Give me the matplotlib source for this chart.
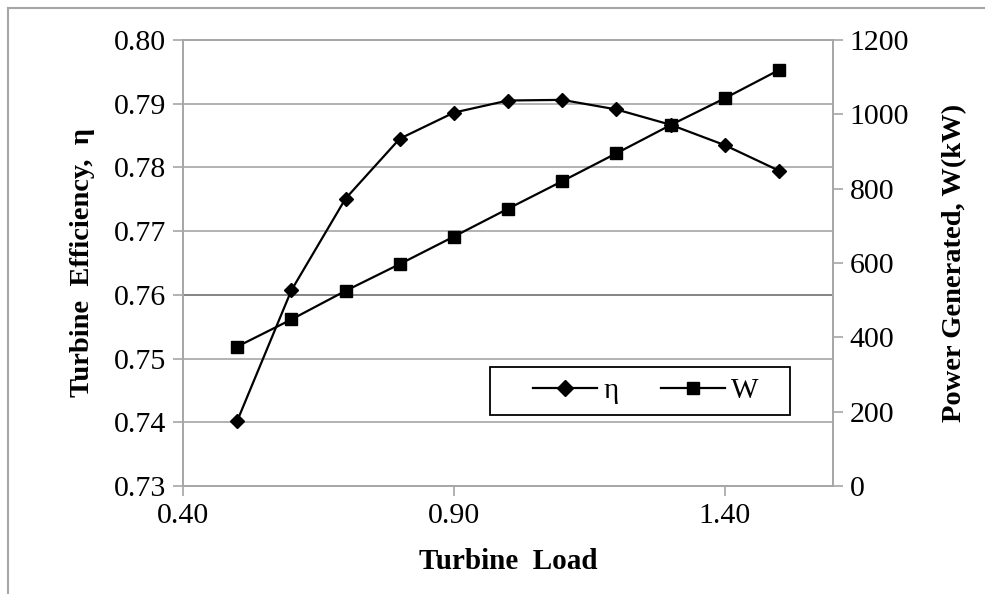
import matplotlib
matplotlib.use("Agg")
import matplotlib.pyplot as plt
from matplotlib.lines import Line2D
from matplotlib.patches import Rectangle

# turbine load (fraction of design)
load = [0.5, 0.6, 0.7, 0.8, 0.9, 1.0, 1.1, 1.2, 1.3, 1.4, 1.5]
# turbine efficiency
eta = [0.7402, 0.7607, 0.7751, 0.7845, 0.7886, 0.7905, 0.7906, 0.7891, 0.7867, 0.7835, 0.7795]
# power generated, kW
power = [375, 448, 525, 597, 671, 746, 820, 895, 971, 1043, 1119]

x_ticks = [0.40, 0.90, 1.40]
eta_ticks = [0.73, 0.74, 0.75, 0.76, 0.77, 0.78, 0.79, 0.80]
w_ticks = [0, 200, 400, 600, 800, 1000, 1200]

GRAY = "#a6a6a6"
SERIF = "Liberation Serif"


def main():
    plt.rcParams["font.family"] = SERIF
    fig = plt.figure(figsize=(9.85, 5.94), dpi=100)
    ax = fig.add_axes([0.1858, 0.1818, 0.6599, 0.7509])
    ax2 = ax.twinx()

    # left axis: efficiency
    ax.plot(load, eta, color="black", lw=1.6, marker="D", ms=7, label="η")
    ax.set_xlim(0.40, 1.60)
    ax.set_ylim(0.73, 0.80)
    ax.set_xticks(x_ticks)
    ax.set_xticklabels(["%.2f" % v for v in x_ticks])
    ax.set_yticks(eta_ticks)
    ax.set_yticklabels(["%.2f" % v for v in eta_ticks])
    ax.yaxis.grid(True, color=GRAY, lw=1.2)
    ax.set_axisbelow(True)
    ax.get_ygridlines()[3].set_color("#707070")

    # right axis: power
    ax2.plot(load, power, color="black", lw=1.6, marker="s", ms=8, label="W")
    ax2.set_ylim(0, 1200)
    ax2.set_yticks(w_ticks)

    for a in (ax, ax2):
        for s in a.spines.values():
            s.set_color(GRAY)
            s.set_linewidth(1.2)
        a.tick_params(direction="out", length=7, width=1.2, color=GRAY,
                      labelsize=21.5, pad=5)

    ax.set_xlabel("Turbine  Load", fontsize=21, fontweight="bold", labelpad=14)
    ax.set_ylabel("Turbine  Efficiency,  η", fontsize=20.5, fontweight="bold", labelpad=14)
    ax2.set_ylabel("Power Generated, W(kW)", fontsize=20.5, fontweight="bold", labelpad=24)

    # legend box drawn separately so it can be wider than its entries
    ax2.add_patch(Rectangle((0.472, 0.159), 0.462, 0.108, transform=ax2.transAxes,
                            facecolor="white", edgecolor="black", lw=1.3, zorder=4))
    handles = [Line2D([], [], color="black", lw=1.6, marker="D", ms=8),
               Line2D([], [], color="black", lw=1.6, marker="s", ms=8)]
    leg = ax2.legend(handles, ["η", "W"], ncol=2, loc="center",
                     bbox_to_anchor=(0.712, 0.213), fontsize=21, frameon=False,
                     handlelength=2.2, columnspacing=1.45, borderaxespad=0,
                     handletextpad=0.2)
    leg.set_zorder(5)

    # outer frame of the picture (top and left edges visible)
    fig.add_artist(Line2D([0.008, 1.0], [0.986, 0.986], color=GRAY, lw=1.5))
    fig.add_artist(Line2D([0.008, 0.008], [0.0, 0.986], color=GRAY, lw=1.5))

    fig.savefig("out.png", dpi=100)


if __name__ == "__main__":
    main()
